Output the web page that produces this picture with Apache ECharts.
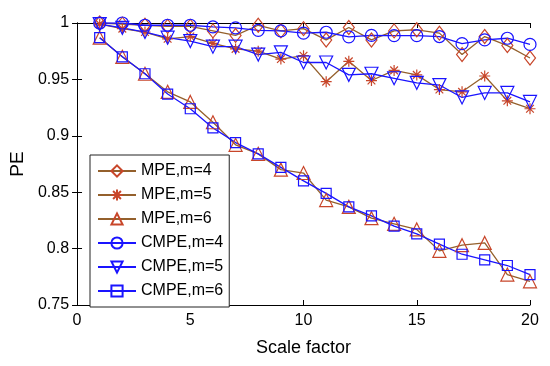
<!DOCTYPE html>
<html><head><meta charset="utf-8">
<script src="https://cdn.jsdelivr.net/npm/echarts@6/dist/echarts.min.js"></script>
<style>html,body{margin:0;padding:0;background:#fff}#c{width:550px;height:366px}</style>
</head><body><div id="c"></div>
<script>
var scale = [1,2,3,4,5,6,7,8,9,10,11,12,13,14,15,16,17,18,19,20];
var mpe4 = [1.0,0.999,0.998,0.997,0.997,0.993,0.989,0.998,0.993,0.995,0.985,0.996,0.985,0.993,0.994,0.991,0.972,0.988,0.980,0.969];
var mpe5 = [0.999,0.995,0.992,0.986,0.988,0.982,0.977,0.975,0.968,0.971,0.948,0.966,0.949,0.958,0.954,0.941,0.939,0.953,0.931,0.924];
var mpe6 = [0.987,0.970,0.955,0.939,0.930,0.912,0.892,0.884,0.870,0.867,0.843,0.837,0.827,0.822,0.817,0.798,0.803,0.805,0.777,0.771];
var cmpe4 = [1.0,1.0,0.998,0.998,0.998,0.9965,0.9957,0.9935,0.993,0.991,0.9918,0.9877,0.989,0.9888,0.9888,0.988,0.9817,0.985,0.9865,0.981];
var cmpe5 = [0.999,0.9957,0.992,0.987,0.984,0.979,0.979,0.972,0.974,0.965,0.965,0.954,0.955,0.951,0.947,0.945,0.934,0.938,0.938,0.930];
var cmpe6 = [0.987,0.970,0.955,0.937,0.924,0.907,0.894,0.884,0.872,0.860,0.849,0.837,0.829,0.820,0.813,0.804,0.795,0.790,0.785,0.777];
var names = ['MPE,m=4','MPE,m=5','MPE,m=6','CMPE,m=4','CMPE,m=5','CMPE,m=6'];
var xTicks = [0,5,10,15,20];
var yTicks = [0.75,0.8,0.85,0.9,0.95,1];

function pairs(v){ return scale.map(function(s,i){ return [s, v[i]]; }); }
var brown = '#94602c', red = '#c8462a', blue = '#1a14ff';
var FONT = 'Liberation Sans, Arial, sans-serif';
var asterisk = 'path://M5 0 L5 10 M0 5 L10 5 M1.5 1.5 L8.5 8.5 M8.5 1.5 L1.5 8.5';
function ser(name, data, lc, mc, sym, size, rot){
  return {name:name, type:'line', data:pairs(data), symbol:sym, symbolSize:size, symbolRotate:rot||0,
    showAllSymbol:true, animation:false,
    lineStyle:{color:lc, width:1.3},
    itemStyle:{color:'rgba(0,0,0,0)', borderColor:mc, borderWidth:1.2}};
}
var series = [
  ser(names[0], mpe4, brown, red, 'diamond', [11,14]),
  ser(names[1], mpe5, brown, red, asterisk, 11),
  ser(names[2], mpe6, brown, red, 'triangle', 13),
  ser(names[3], cmpe4, blue, blue, 'circle', 12),
  ser(names[4], cmpe5, blue, blue, 'triangle', 13, 180),
  ser(names[5], cmpe6, blue, blue, 'rect', 10)
];
var chart = echarts.init(document.getElementById('c'));
var axisCommon = {axisLine:{show:true,lineStyle:{color:'#000',width:1}},
  axisTick:{show:true,inside:true,length:5,lineStyle:{color:'#000'}},
  splitLine:{show:false}};
chart.setOption({
  backgroundColor:'#fff',
  animation:false,
  textStyle:{fontFamily:FONT},
  grid:{left:76,right:20,top:23,bottom:61,containLabel:false},
  legend:{data:names, orient:'vertical', left:90, top:155, width:120,
    padding:[8,6,8,7], itemGap:8, itemWidth:38, itemHeight:14,
    backgroundColor:'#fff', borderColor:'#222', borderWidth:1,
    textStyle:{fontSize:16, color:'#000', fontFamily:FONT}},
  xAxis:[
    Object.assign({type:'value', min:0, max:20, interval:5, position:'bottom',
      name:'Scale factor', nameLocation:'middle', nameGap:34,
      nameTextStyle:{fontSize:18,color:'#000',fontFamily:FONT},
      axisLabel:{fontSize:16,color:'#000',margin:8,fontFamily:FONT}}, axisCommon),
    Object.assign({type:'value', min:0, max:20, interval:5, position:'top',
      axisLabel:{show:false}}, axisCommon)
  ],
  yAxis:[
    Object.assign({type:'value', min:0.75, max:1, interval:0.05, position:'left',
      name:'PE', nameLocation:'middle', nameGap:48, nameRotate:90,
      nameTextStyle:{fontSize:19,color:'#000',fontFamily:FONT},
      axisLabel:{fontSize:16,color:'#000',margin:8,fontFamily:FONT,
        formatter:function(v){ return String(+v.toFixed(2)); }}}, axisCommon),
    Object.assign({type:'value', min:0.75, max:1, interval:0.05, position:'right',
      axisLabel:{show:false}}, axisCommon)
  ],
  series: series
});
</script></body></html>
